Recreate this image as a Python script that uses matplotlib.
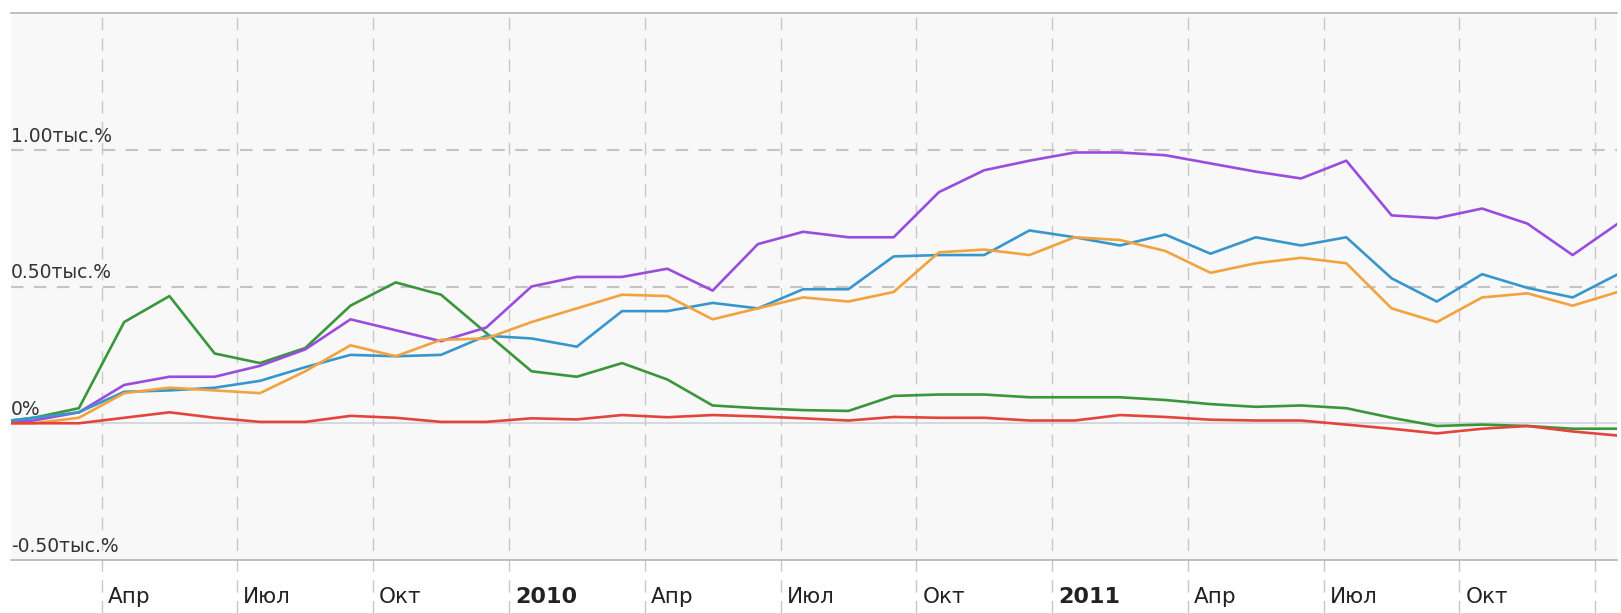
import matplotlib
matplotlib.use('Agg')
import matplotlib.pyplot as plt
from matplotlib import font_manager
import numpy as np

# months counted from Jan 2009 (0 = start of Jan 2009), points sit mid-month
months = np.arange(0.5, 37.0, 1.0)

green = [0, 0.02, 0.055, 0.37, 0.465, 0.255, 0.22, 0.275, 0.43, 0.515,
         0.47, 0.33, 0.19, 0.17, 0.22, 0.16, 0.065, 0.055, 0.048, 0.045,
         0.10, 0.105, 0.105, 0.095, 0.095, 0.095, 0.085, 0.07, 0.06, 0.065,
         0.055, 0.02, -0.01, -0.005, -0.01, -0.02, -0.02]
red = [0, 0, 0, 0.02, 0.04, 0.02, 0.005, 0.005, 0.027, 0.02,
       0.005, 0.005, 0.018, 0.014, 0.03, 0.022, 0.03, 0.025, 0.018, 0.01,
       0.023, 0.02, 0.02, 0.01, 0.01, 0.03, 0.023, 0.013, 0.01, 0.01,
       -0.005, -0.02, -0.037, -0.02, -0.01, -0.03, -0.045]
blue = [0, 0.02, 0.04, 0.115, 0.12, 0.13, 0.155, 0.205, 0.25, 0.245,
        0.25, 0.32, 0.31, 0.28, 0.41, 0.41, 0.44, 0.42, 0.49, 0.49,
        0.61, 0.615, 0.615, 0.705, 0.68, 0.65, 0.69, 0.62, 0.68, 0.65,
        0.68, 0.53, 0.445, 0.545, 0.495, 0.46, 0.545]
orange = [0, 0, 0.02, 0.11, 0.13, 0.12, 0.11, 0.19, 0.285, 0.245,
          0.305, 0.31, 0.37, 0.42, 0.47, 0.465, 0.38, 0.42, 0.46, 0.445,
          0.48, 0.625, 0.635, 0.615, 0.68, 0.67, 0.63, 0.55, 0.585, 0.605,
          0.585, 0.42, 0.37, 0.46, 0.475, 0.43, 0.48]
purple = [0, 0.01, 0.04, 0.14, 0.17, 0.17, 0.21, 0.27, 0.38, 0.34,
          0.30, 0.35, 0.50, 0.535, 0.535, 0.565, 0.485, 0.655, 0.70, 0.68,
          0.68, 0.845, 0.925, 0.96, 0.99, 0.99, 0.98, 0.95, 0.92, 0.895,
          0.96, 0.76, 0.75, 0.785, 0.73, 0.615, 0.73]

tick_pos = [3, 6, 9, 12, 15, 18, 21, 24, 27, 30, 33, 36]
tick_labels = ['Апр', 'Июл', 'Окт', '2010', 'Апр', 'Июл', 'Окт', '2011',
               'Апр', 'Июл', 'Окт', '']
y_levels = [1.0, 0.5, 0.0, -0.5]
y_labels = ['1.00тыс.%', '0.50тыс.%', '0%', '-0.50тыс.%']

# narrow font if there is one, else plain DejaVu
names = set(f.name for f in font_manager.fontManager.ttflist)
fam = 'DejaVu Sans'
for cand in ['Liberation Sans Narrow', 'DejaVu Sans Condensed']:
    if cand in names:
        fam = cand
        break
narrow = fam != 'DejaVu Sans'

W, H = 1621, 613
fig = plt.figure(figsize=(W/100, H/100), dpi=100)
fig.patch.set_facecolor('white')
ax = fig.add_axes([11/W, (H-560)/H, 1606/W, 547/H])
ax.set_facecolor('#f8f8f8')
ax.set_xlim(1.0, 36.48)
ax.set_ylim(-0.5, 1.5)
ax.set_xticks([])
ax.set_yticks([])
for s in ['left', 'right']:
    ax.spines[s].set_visible(False)
for s in ['top', 'bottom']:
    ax.spines[s].set_color('#b4b4b4')
    ax.spines[s].set_linewidth(1.2)

for y in [0.5, 1.0]:
    ax.axhline(y, color='#c4c4c4', lw=1.5, ls=(0, (6, 5)), zorder=1)
ax.axhline(0, color='#cdd3da', lw=1.2, zorder=1)

for m in tick_pos:
    ax.axvline(m, ymin=-0.097, ymax=1, color='#c8c8c8', lw=1.0,
               ls=(0, (9, 6)), clip_on=False, zorder=1)

xs = 17 if narrow else 15.5
for m, lab in zip(tick_pos, tick_labels):
    bold = lab.isdigit()
    ax.annotate(lab, xy=(m, 0), xycoords=('data', 'axes fraction'),
                xytext=(6, -37), textcoords='offset pixels',
                ha='left', va='center', fontsize=xs + 0.5 if bold else xs,
                family=fam, fontweight='bold' if bold else 'normal',
                color='#222222', annotation_clip=False)

ys = 15 if narrow else 13.5
for y, lab in zip(y_levels, y_labels):
    ax.annotate(lab, xy=(0, y), xycoords=('axes fraction', 'data'),
                xytext=(0, 8), textcoords='offset pixels', family=fam,
                ha='left', va='baseline', fontsize=ys, color='#333333')

ax.plot(months, green, color='#3a963a', lw=1.9, zorder=3)
ax.plot(months, purple, color='#9a4ddc', lw=1.9, zorder=3)
ax.plot(months, blue, color='#3797cc', lw=1.9, zorder=3)
ax.plot(months, orange, color='#f2a23e', lw=1.9, zorder=3)
ax.plot(months, red, color='#e4443e', lw=1.9, zorder=3)

fig.savefig('out.png', dpi=100)
